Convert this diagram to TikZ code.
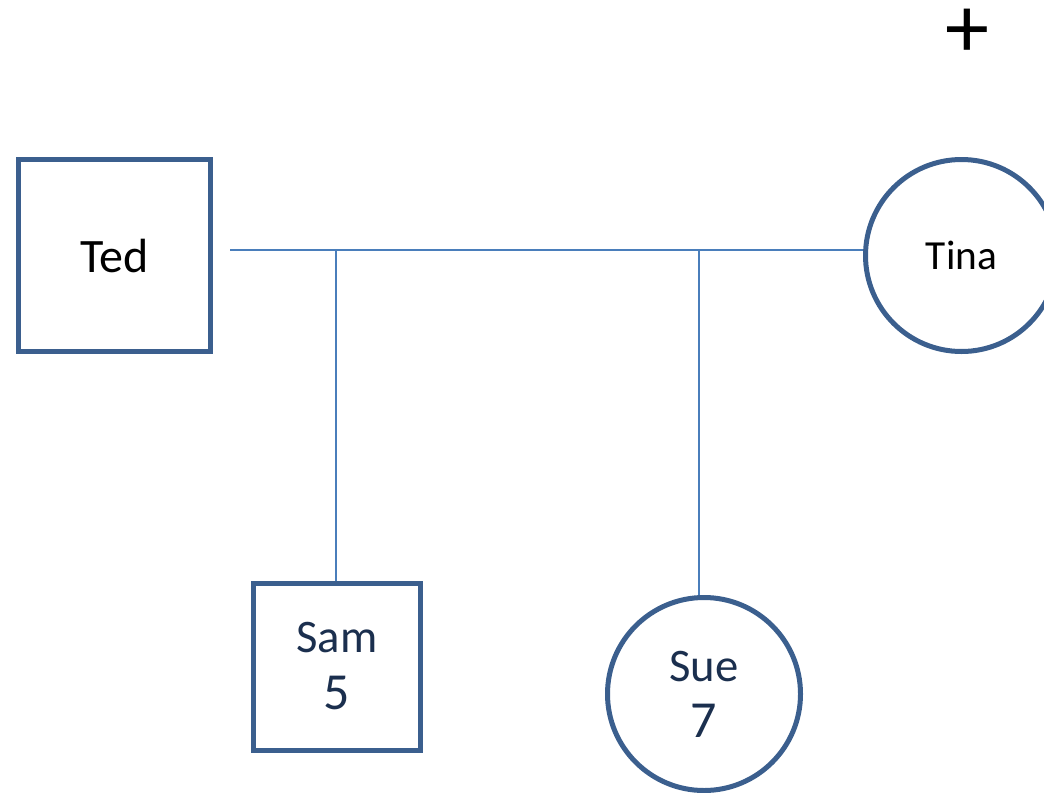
\documentclass[tikz,border=0pt]{standalone}
\usepackage{fontspec}
\setmainfont{Carlito}
\usetikzlibrary{backgrounds}
\definecolor{bordercol}{HTML}{3B5F8E}
\definecolor{linkcol}{HTML}{4A7EBB}
\definecolor{navy}{HTML}{1B2F4E}
\begin{document}
\begin{tikzpicture}[x=0.75pt,y=-0.75pt,
  malebox/.style={draw=bordercol,line width=3.75pt,rectangle,inner sep=0pt,align=center,fill=white},
  femalebox/.style={draw=bordercol,line width=3.75pt,circle,inner sep=0pt,align=center,fill=white},
  linkline/.style={draw=linkcol,line width=1.5pt}]
\useasboundingbox (0,0) rectangle (1044,792);
\node[malebox,minimum size=144pt,font=\fontsize{36}{42}\selectfont] (ted) at (114.5,255.5) {Ted};
\node[femalebox,minimum size=144pt,font=\fontsize{31}{37}\selectfont] (tina) at (961.5,255.5) {Tina};
\node[malebox,minimum size=125.25pt,text=navy,font=\fontsize{35}{42.75}\selectfont] (sam) at (337,666.5) {Sam\\\fontsize{39}{42.75}\selectfont 5};
\node[femalebox,minimum size=144.75pt,text=navy,font=\fontsize{35}{42}\selectfont] (sue) at (704,694) {Sue\\\fontsize{39}{42}\selectfont 7};
\node[font=\fontsize{66}{66}\selectfont,inner sep=0pt] (plus) at (967,33) {+};
\coordinate (m) at (230,250);
\coordinate (j1) at (336,250);
\coordinate (j2) at (699,250);
\begin{scope}[on background layer]
\draw[linkline] (m) -- (m -| tina.west);
\draw[linkline] (j1) -- (j1 |- sam.north);
\draw[linkline] (j2) -- (j2 |- sue.north);
\end{scope}
\end{tikzpicture}
\end{document}
